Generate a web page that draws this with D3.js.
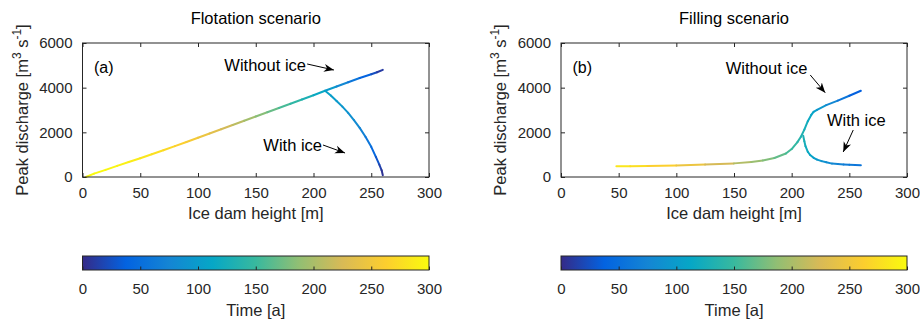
<!DOCTYPE html>
<html>
<head>
<meta charset="utf-8">
<script src="https://cdn.jsdelivr.net/npm/d3@7"></script>
<style>
  body { margin: 0; background: #fff; }
  svg text { font-family: 'Liberation Sans', Arial, Helvetica, sans-serif; }
</style>
</head>
<body>
<div id="chart"></div>
<script>
// ---- data ----
// flotation scenario, without ice
const flotNoIceHeight = [3, 10, 20, 30, 40, 50, 60, 70, 80, 90, 100, 110, 120, 130, 140, 150, 160, 170, 180, 190, 200, 210, 220, 230, 240, 250, 255, 260];
const flotNoIceQ      = [0, 150, 320, 500, 670, 840, 1020, 1200, 1380, 1570, 1760, 1950, 2140, 2330, 2520, 2710, 2900, 3090, 3280, 3470, 3660, 3860, 4050, 4240, 4430, 4600, 4690, 4800];
const flotNoIceTime   = [300, 299, 297, 294, 290, 285, 280, 274, 267, 259, 250, 240, 228, 215, 203, 190, 177, 163, 150, 136, 122, 108, 88, 68, 48, 30, 18, 5];
// flotation scenario, with ice
const flotIceHeight = [210, 215, 220, 225, 230, 235, 240, 245, 250, 254, 257, 259, 260];
const flotIceQ      = [3860, 3650, 3400, 3150, 2870, 2550, 2200, 1800, 1350, 900, 550, 300, 80];
const flotIceTime   = [108, 104, 100, 95, 90, 84, 77, 66, 52, 36, 20, 9, 2];
// filling scenario, without ice
const fillNoIceHeight = [48, 60, 75, 100, 125, 150, 165, 175, 185, 195, 200, 205, 208, 211, 214, 217, 219, 222, 230, 240, 250, 260];
const fillNoIceQ      = [480, 485, 495, 520, 555, 610, 670, 740, 850, 1050, 1250, 1560, 1800, 2120, 2500, 2780, 2920, 3010, 3220, 3420, 3640, 3860];
const fillNoIceTime   = [285, 280, 272, 255, 235, 212, 197, 186, 175, 160, 152, 142, 136, 128, 120, 113, 108, 102, 88, 68, 48, 25];
// filling scenario, with ice
const fillIceHeight = [210, 211, 212, 214, 216, 219, 222, 226, 230, 235, 240, 245, 250, 255, 260];
const fillIceQ      = [1850, 1600, 1380, 1130, 985, 860, 780, 710, 660, 600, 580, 560, 545, 535, 530];
const fillIceTime   = [132, 128, 124, 118, 112, 105, 99, 92, 86, 80, 74, 69, 64, 59, 55];

const xTicks = [0, 50, 100, 150, 200, 250, 300];
const yTicks = [0, 2000, 4000, 6000];
const timeTicks = [0, 50, 100, 150, 200, 250, 300];

// parula colour map
const parulaPos = [0, 0.125, 0.25, 0.375, 0.5, 0.625, 0.75, 0.875, 1];
const parulaHex = ['#352a87', '#0363e1', '#1485d4', '#06a7c6', '#38b99e', '#92bf73', '#d9ba56', '#fcce2e', '#f9fb0e'];

const W = 920, H = 321;
const AX = '#262626';
const color = d3.scaleLinear().domain(parulaPos.map(p => p * 300)).range(parulaHex);
const fmt = d3.format('d');

const svg = d3.select('#chart').append('svg')
    .attr('width', W).attr('height', H);

const defs = svg.append('defs');
const grad = defs.append('linearGradient')
    .attr('id', 'parula').attr('x1', '0%').attr('x2', '100%');
grad.selectAll('stop').data(parulaPos).enter().append('stop')
    .attr('offset', p => (p * 100) + '%')
    .attr('stop-color', (p, i) => parulaHex[i]);

defs.append('marker')
    .attr('id', 'arr').attr('viewBox', '-10 -5 12 10')
    .attr('refX', 0).attr('refY', 0)
    .attr('markerWidth', 12).attr('markerHeight', 10)
    .attr('markerUnits', 'userSpaceOnUse')
    .attr('orient', 'auto')
  .append('path')
    .attr('d', 'M0,0 L-10,-4 L-7,0 L-10,4 Z')
    .attr('fill', '#000');

const panels = [
    {
        left: 82.5, right: 429, title: 'Flotation scenario', tag: '(a)',
        curves: [
            { h: flotNoIceHeight, q: flotNoIceQ, t: flotNoIceTime },
            { h: flotIceHeight, q: flotIceQ, t: flotIceTime }
        ],
        notes: [
            { text: 'Without ice', x: 193.5, y: 5015, anchor: 'end', from: [194.5, 5060], to: [217.7, 4790] },
            { text: 'With ice', x: 207.4, y: 1433, anchor: 'end', from: [208.2, 1433], to: [227.3, 1075] }
        ]
    },
    {
        left: 561, right: 907, title: 'Filling scenario', tag: '(b)',
        curves: [
            { h: fillNoIceHeight, q: fillNoIceQ, t: fillNoIceTime },
            { h: fillIceHeight, q: fillIceQ, t: fillIceTime }
        ],
        notes: [
            { text: 'Without ice', x: 142.9, y: 4868, anchor: 'start', from: [216.1, 4568], to: [229.1, 3775] },
            { text: 'With ice', x: 230.6, y: 2521, anchor: 'start', from: [253.4, 2105], to: [244.7, 1120] }
        ]
    }
];

const axTop = 43, axBottom = 177;
const cbTop = 256, cbBottom = 270;

function styleAxis(g) {
    g.select('.domain').remove();
    g.selectAll('line').attr('stroke', AX);
    g.selectAll('text').attr('fill', AX).attr('font-size', 15);
}

panels.forEach(p => {
    const x = d3.scaleLinear().domain([0, 300]).range([p.left, p.right]);
    const y = d3.scaleLinear().domain([0, 6000]).range([axBottom, axTop]);
    const g = svg.append('g');

    // curves, coloured by time
    p.curves.forEach(c => {
        const segs = d3.range(c.h.length - 1);
        g.append('g').selectAll('line').data(segs).enter().append('line')
            .attr('x1', i => x(c.h[i])).attr('y1', i => y(c.q[i]))
            .attr('x2', i => x(c.h[i + 1])).attr('y2', i => y(c.q[i + 1]))
            .attr('stroke', i => color((c.t[i] + c.t[i + 1]) / 2))
            .attr('stroke-width', 2)
            .attr('stroke-linecap', 'round');
    });

    // axes with inward ticks on all four sides
    g.append('g').attr('transform', `translate(0,${axBottom})`)
        .call(d3.axisBottom(x).tickValues(xTicks).tickSize(-4).tickPadding(10).tickFormat(fmt))
        .call(styleAxis);
    g.append('g').attr('transform', `translate(0,${axTop})`)
        .call(d3.axisTop(x).tickValues(xTicks).tickSize(-4).tickFormat(''))
        .call(styleAxis);
    g.append('g').attr('transform', `translate(${p.left},0)`)
        .call(d3.axisLeft(y).tickValues(yTicks).tickSize(-4).tickPadding(10).tickFormat(fmt))
        .call(styleAxis);
    g.append('g').attr('transform', `translate(${p.right},0)`)
        .call(d3.axisRight(y).tickValues(yTicks).tickSize(-4).tickFormat(''))
        .call(styleAxis);
    g.append('rect')
        .attr('x', p.left).attr('y', axTop)
        .attr('width', p.right - p.left).attr('height', axBottom - axTop)
        .attr('fill', 'none').attr('stroke', AX).attr('stroke-width', 1);

    const cx = (p.left + p.right) / 2;
    g.append('text').attr('x', cx).attr('y', 24)
        .attr('text-anchor', 'middle').attr('font-size', 16.5).attr('fill', '#000')
        .text(p.title);
    g.append('text').attr('x', cx).attr('y', 219)
        .attr('text-anchor', 'middle').attr('font-size', 16.5).attr('fill', AX)
        .text('Ice dam height [m]');

    const yl = g.append('text')
        .attr('transform', `translate(${p.left - 55},${(axTop + axBottom) / 2}) rotate(-90)`)
        .attr('text-anchor', 'middle').attr('font-size', 16.5).attr('fill', AX);
    yl.append('tspan').text('Peak discharge [m');
    yl.append('tspan').attr('dy', -7).attr('font-size', 12).text('3');
    yl.append('tspan').attr('dy', 7).text(' s');
    yl.append('tspan').attr('dy', -7).attr('font-size', 12).text('-1');
    yl.append('tspan').attr('dy', 7).text(']');

    g.append('text').attr('x', x(0) + 11.5).attr('y', y(4900)).attr('dy', '0.35em')
        .attr('font-size', 16).attr('fill', '#000').text(p.tag);

    // annotations
    p.notes.forEach(n => {
        g.append('text').attr('x', x(n.x)).attr('y', y(n.y)).attr('dy', '0.35em')
            .attr('text-anchor', n.anchor).attr('font-size', 16.5).attr('fill', '#000')
            .text(n.text);
        g.append('line')
            .attr('x1', x(n.from[0])).attr('y1', y(n.from[1]))
            .attr('x2', x(n.to[0])).attr('y2', y(n.to[1]))
            .attr('stroke', '#000').attr('stroke-width', 1)
            .attr('marker-end', 'url(#arr)');
    });

    // colour bar
    const cbx = d3.scaleLinear().domain([0, 300]).range([p.left, p.right]);
    g.append('rect')
        .attr('x', p.left).attr('y', cbTop)
        .attr('width', p.right - p.left).attr('height', cbBottom - cbTop)
        .attr('fill', 'url(#parula)');
    g.append('g').attr('transform', `translate(0,${cbBottom})`)
        .call(d3.axisBottom(cbx).tickValues(timeTicks).tickSize(-3.5).tickPadding(13).tickFormat(fmt))
        .call(styleAxis);
    g.append('rect')
        .attr('x', p.left).attr('y', cbTop)
        .attr('width', p.right - p.left).attr('height', cbBottom - cbTop)
        .attr('fill', 'none').attr('stroke', AX).attr('stroke-width', 1);
    g.append('text').attr('x', cx).attr('y', 315.5)
        .attr('text-anchor', 'middle').attr('font-size', 16.5).attr('fill', AX)
        .text('Time [a]');
});
</script>
</body>
</html>
